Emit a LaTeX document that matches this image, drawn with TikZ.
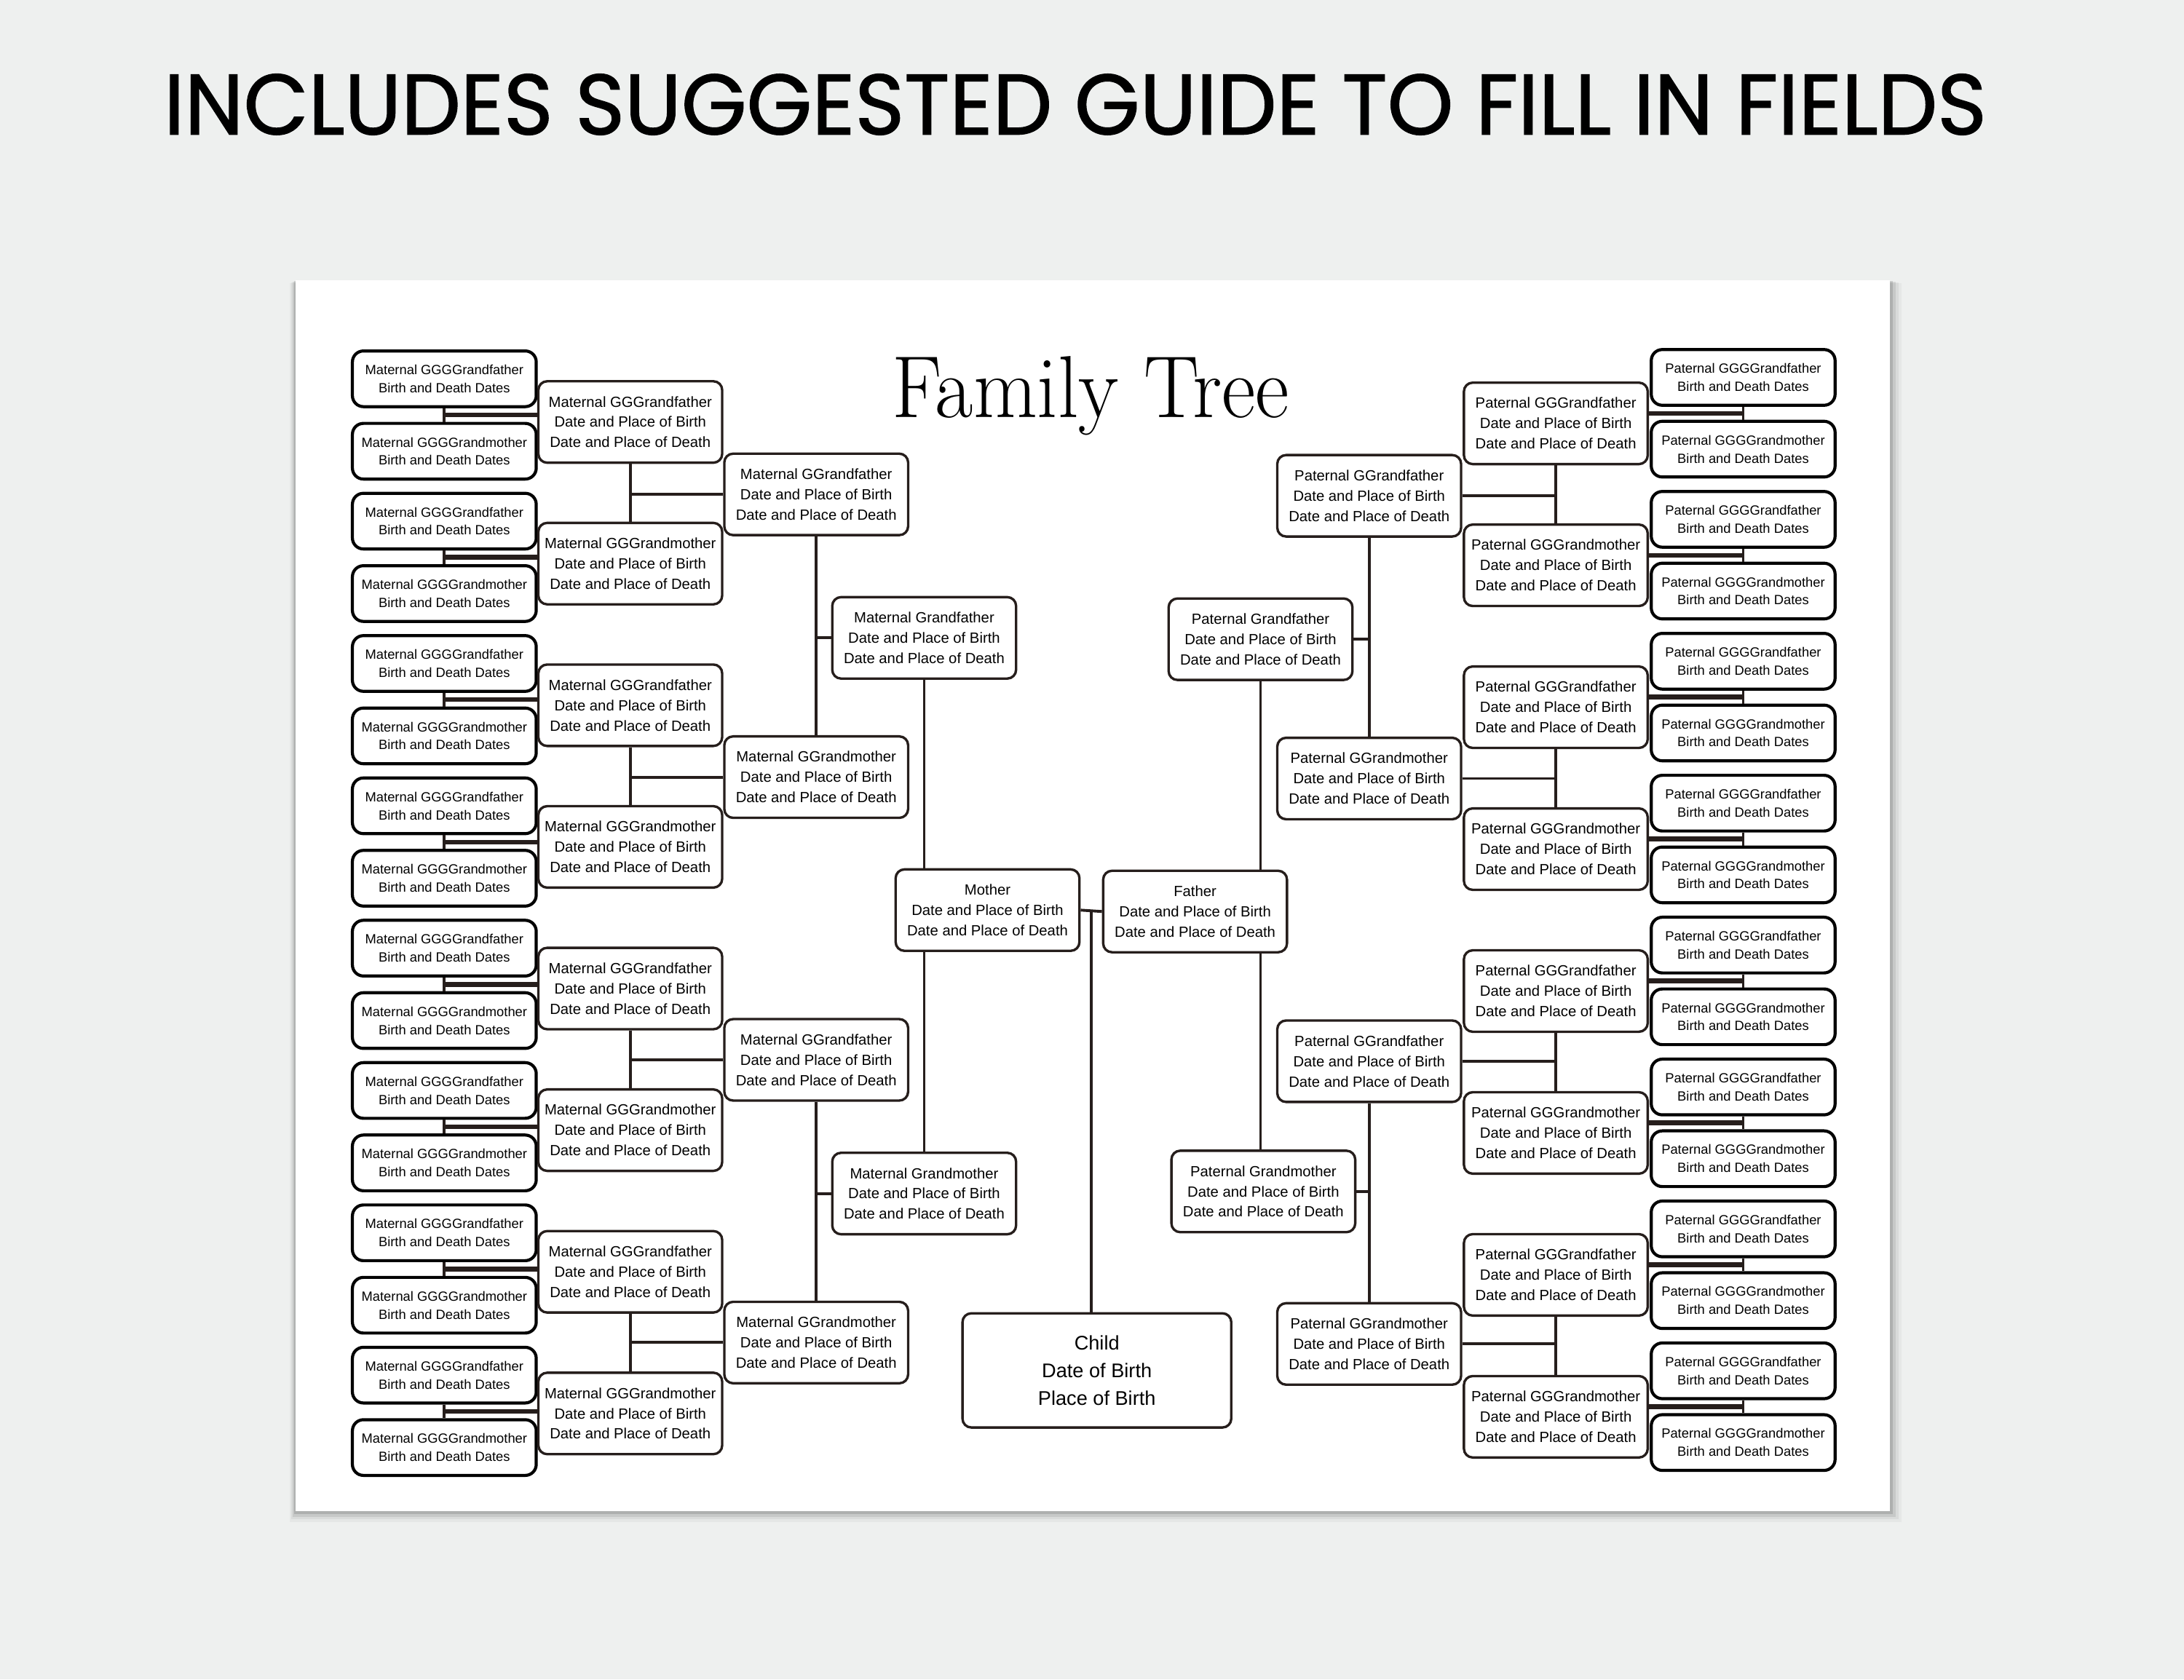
\documentclass[tikz,border=0pt]{standalone}
\usepackage{fontspec}
\setmainfont{Liberation Sans}
\newfontfamily\headfont{Poppins}[FakeStretch=0.98,FakeBold=1.2]
\newfontfamily\titlefont{Latin Modern Roman}[FakeStretch=0.94]
\usetikzlibrary{positioning,calc}
\definecolor{paperbg}{RGB}{238,240,239}
\definecolor{ink}{RGB}{38,30,28}

\begin{document}
\begin{tikzpicture}[x=0.02cm,y=-0.02cm,
  person/.style={draw=ink, line width=1pt, rounded corners=3.6pt, fill=white, align=center, inner sep=0pt,
    minimum width=2.64cm, minimum height=1.17cm, font=\fontsize{6.03}{8.3}\selectfont},
  ancestor/.style={person, draw=black, line width=1.25pt, rounded corners=4.5pt, minimum height=0.8cm,
    font=\fontsize{5.46}{7.4}\selectfont},
  childbox/.style={person, minimum width=3.86cm, minimum height=1.64cm, font=\fontsize{8.08}{11.4}\selectfont},
  link/.style={draw=ink, line width=1.15pt},
  pairlink/.style={draw=ink, line width=1.9pt},
]
  \useasboundingbox (0,0) rectangle (1568,1206);
  \fill[paperbg] (0,0) rectangle (1568,1206);
  \node[font=\headfont\fontsize{35}{40}\selectfont] (guide) at (772,75) {INCLUDES SUGGESTED GUIDE TO FILL IN FIELDS};

  % sheet with soft shadow
  \foreach \s/\o in {8/0.035,6/0.05,4/0.08,2/0.12}
    \fill[black, opacity=\o] (212-\s*0.5,201+\s*0.3) rectangle (1357+\s,1085+\s);
  \fill[white] (212,201) rectangle (1357,1085);
  \node[font=\titlefont\fontsize{36}{40}\selectfont] (title) at (783,284) {Family Tree};

  % maternal side
  \foreach \n in {1,...,16} {
    \pgfmathsetmacro\y{272+102.2*int((\n-1)/2)+52*mod(\n-1,2)}
    \ifodd\n \def\who{Grandfather}\else\def\who{Grandmother}\fi
    \node[ancestor] (mggg\n) at (319,\y) {Maternal GGG\who\\Birth and Death Dates};
  }
  \foreach \k in {1,...,8} {
    \pgfmathsetmacro\y{303+101.7*(\k-1)}
    \ifodd\k \def\who{Grandfather}\else\def\who{Grandmother}\fi
    \node[person] (mgg\k) at (452.5,\y) {Maternal GG\who\\Date and Place of Birth\\Date and Place of Death};
  }
  \foreach \g in {1,...,4} {
    \pgfmathsetmacro\y{355+203*(\g-1)}
    \ifodd\g \def\who{Grandfather}\else\def\who{Grandmother}\fi
    \node[person] (mgr\g) at (586,\y) {Maternal G\who\\Date and Place of Birth\\Date and Place of Death};
  }
  \node[person] (mg1) at (663.5,458) {Maternal Grandfather\\Date and Place of Birth\\Date and Place of Death};
  \node[person] (mg2) at (663.5,857) {Maternal Grandmother\\Date and Place of Birth\\Date and Place of Death};
  \node[person] (mother) at (709,653.5) {Mother\\Date and Place of Birth\\Date and Place of Death};

  % paternal side
  \foreach \n in {1,...,16} {
    \pgfmathsetmacro\y{271+101.9*int((\n-1)/2)+51.5*mod(\n-1,2)}
    \ifodd\n \def\who{Grandfather}\else\def\who{Grandmother}\fi
    \node[ancestor] (pggg\n) at (1251.5,\y) {Paternal GGG\who\\Birth and Death Dates};
  }
  \foreach \k in {1,...,8} {
    \pgfmathsetmacro\y{304+101.9*(\k-1)}
    \ifodd\k \def\who{Grandfather}\else\def\who{Grandmother}\fi
    \node[person] (pgg\k) at (1117,\y) {Paternal GG\who\\Date and Place of Birth\\Date and Place of Death};
  }
  \foreach \g in {1,...,4} {
    \pgfmathsetmacro\y{356+203*(\g-1)}
    \ifodd\g \def\who{Grandfather}\else\def\who{Grandmother}\fi
    \node[person] (pgr\g) at (983,\y) {Paternal G\who\\Date and Place of Birth\\Date and Place of Death};
  }
  \node[person] (pg1) at (905,459) {Paternal Grandfather\\Date and Place of Birth\\Date and Place of Death};
  \node[person] (pg2) at (907,855.5) {Paternal Grandmother\\Date and Place of Birth\\Date and Place of Death};
  \node[person] (father) at (858,654.5) {Father\\Date and Place of Birth\\Date and Place of Death};

  \node[childbox] (child) at (787.5,984) {Child\\Date of Birth\\Place of Birth};

  % connectors
  \foreach \k [evaluate=\k as \a using int(2*\k-1), evaluate=\k as \b using int(2*\k)] in {1,...,8} {
    \draw[link] (mggg\a.south) -- (mggg\b.north);
    \coordinate (mm\k) at ($(mggg\a.south)!0.5!(mggg\b.north)$);
    \draw[pairlink] (mm\k) -- (mm\k -| mgg\k.west);
    \draw[link] (pggg\a.south) -- (pggg\b.north);
    \coordinate (pm\k) at ($(pggg\a.south)!0.5!(pggg\b.north)$);
    \draw[pairlink] (pm\k) -- (pm\k -| pgg\k.east);
  }
  \foreach \g [evaluate=\g as \a using int(2*\g-1), evaluate=\g as \b using int(2*\g)] in {1,...,4} {
    \draw[link] (mgg\a.south) -- (mgg\b.north);
    \draw[link] (mgr\g.west) -- (mgr\g.west -| mgg\a.south);
    \draw[link] (pgg\a.south) -- (pgg\b.north);
    \draw[link] (pgr\g.east) -- (pgr\g.east -| pgg\a.south);
  }
  \foreach \h [evaluate=\h as \a using int(2*\h-1), evaluate=\h as \b using int(2*\h)] in {1,2} {
    \draw[link] (mgr\a.south) -- (mgr\b.north);
    \draw[link] (mg\h.west) -- (mg\h.west -| mgr\a.south);
    \draw[link] (pgr\a.south) -- (pgr\b.north);
    \draw[link] (pg\h.east) -- (pg\h.east -| pgr\a.south);
  }
  \draw[link] (mg1.south) -- (mg1.south |- mother.north);
  \draw[link] (mg1.south |- mother.south) -- (mg2.north -| mg1.south);
  \draw[link] (pg1.south) -- (pg1.south |- father.north);
  \draw[link] (pg1.south |- father.south) -- (pg2.north -| pg1.south);
  \draw[link] (mother.east) -- (father.west);
  \coordinate (parents) at ($(mother.east)!0.5!(father.west)$);
  \draw[link] (parents) -- (parents |- child.north);
\end{tikzpicture}
\end{document}
